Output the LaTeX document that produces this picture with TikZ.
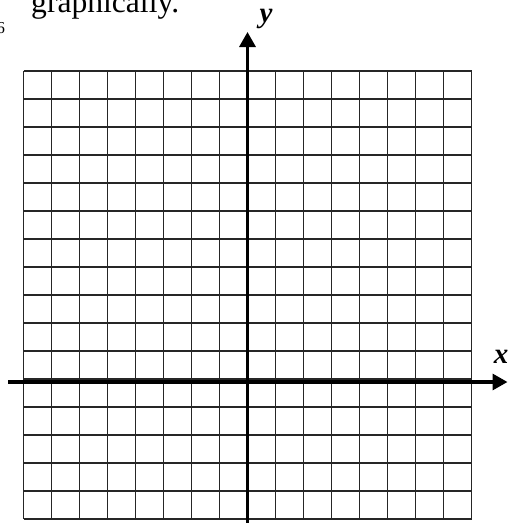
\documentclass[tikz,border=0pt]{standalone}
\usepackage{fontspec}
\setmainfont{Liberation Serif}
\usetikzlibrary{arrows.meta}
\begin{document}
\begin{tikzpicture}[x=1pt,y=-1pt,
  gridline/.style={line width=1.1pt,black!85},
  axisline/.style={line width=3.3pt,black,-{Triangle[length=15pt,width=16pt]}},
  axislabel/.style={inner sep=0pt,font=\fontsize{29}{32}\selectfont\bfseries\itshape},
  bodytext/.style={inner sep=0pt,anchor=base west}]
\useasboundingbox (0,0) rectangle (508,523);
% grid 16 x 16
\foreach \i in {0,...,16} {
  \draw[gridline] (23.5+28*\i,71) -- (23.5+28*\i,519);
  \draw[gridline] (23.5,71+28*\i) -- (471.5,71+28*\i);
}
% axes
\coordinate (xstart) at (8,382);
\coordinate (xend) at (507.5,382);
\coordinate (ystart) at (247.5,523);
\coordinate (yend) at (247.5,32);
\draw[axisline] (xstart) -- (xend);
\draw[axisline] (ystart) -- (yend);
\node[axislabel] (ylab) at (266,19) {y};
\node[axislabel,anchor=east] (xlab) at (508.5,357) {x};
% text
\node[bodytext,font=\fontsize{31.6}{36}\selectfont] (txt) at (31,12) {graphically.};
\node[bodytext,font=\fontsize{16.7}{20}\selectfont] (num) at (-3.5,33) {6};
\end{tikzpicture}
\end{document}
